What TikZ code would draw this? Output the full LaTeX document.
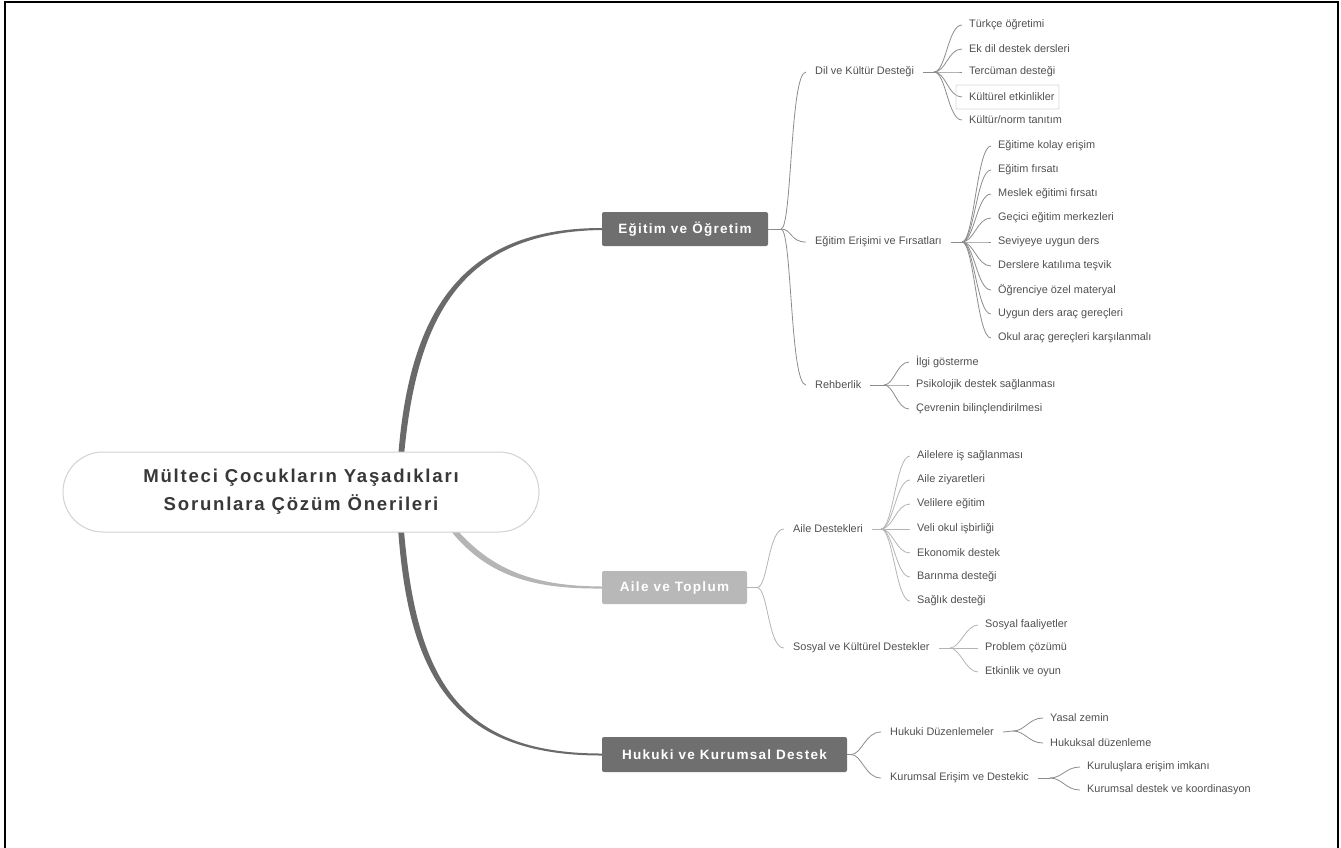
\documentclass[tikz,border=0pt]{standalone}
\usepackage{fontspec}
\setmainfont{Liberation Sans}
\newfontfamily\trackfont[LetterSpace=9.5]{Liberation Sans}
\usetikzlibrary{backgrounds,calc}
\definecolor{boxdark}{HTML}{6F6F6F}
\definecolor{boxlight}{HTML}{B8B8B8}
\definecolor{curvedark}{HTML}{6A6A6A}
\definecolor{curvelight}{HTML}{B5B5B5}
\definecolor{linegray}{HTML}{8C8C8C}
\definecolor{linelight}{HTML}{B4B4B4}
\definecolor{textgray}{HTML}{505050}
\definecolor{titlegray}{HTML}{383838}
\definecolor{pillborder}{HTML}{D2D2D2}
\definecolor{hlborder}{HTML}{D8D8D8}
\begin{document}
\begin{tikzpicture}[x=1pt,y=-1pt,
  mainbox/.style={text=white, rounded corners=2pt, inner sep=0pt,
    font=\trackfont\bfseries\fontsize{13.5}{16}\selectfont},
  pill/.style={draw=pillborder, fill=white, line width=1pt, rounded corners=40pt,
    minimum width=476pt, minimum height=80pt, align=center, text=titlegray,
    font=\trackfont\bfseries\fontsize{18.6}{28}\selectfont},
  sub/.style={anchor=west, inner xsep=9pt, inner ysep=2pt, text=textgray,
    font=\fontsize{10.9}{13}\selectfont},
  leaf/.style={anchor=west, inner xsep=7pt, inner ysep=2pt, text=textgray,
    font=\fontsize{10.9}{13}\selectfont},
  conn/.style={draw=linegray, line width=0.8pt},
  connl/.style={draw=linelight, line width=0.8pt},
  hl/.style={draw=hlborder, line width=0.8pt, rounded corners=1pt}
]
\useasboundingbox (0,0) rectangle (1341,847);
\draw[line width=2pt] (4.5,850) -- (4.5,1.5) -- (1337.5,1.5) -- (1337.5,850);

% central topic
\node[pill] (C) at (301,492) {Mülteci Çocukların Yaşadıkları\\Sorunlara Çözüm Önerileri};
\coordinate (hubE) at (400,470);
\coordinate (hubA) at (440,512);
\coordinate (hubH) at (400,515);

% main topics
\node[mainbox, fill=boxdark, minimum width=166pt, minimum height=34pt] (E) at (685,229) {Eğitim ve Öğretim};
\node[mainbox, fill=boxlight, minimum width=145pt, minimum height=33pt] (A) at (674.5,587.5) {Aile ve Toplum};
\node[mainbox, fill=boxdark, minimum width=245pt, minimum height=35pt] (H) at (724.5,754.5) {Hukuki ve Kurumsal Destek};

\begin{pgfonlayer}{background}
\fill[curvedark] ($(hubE)+(-2.75,0)$) .. controls (406,320) and (455,228) .. ([yshift=1pt]E.west)
  -- ([yshift=-1pt]E.west) .. controls (455,232) and (414,324) .. ($(hubE)+(2.75,0)$) -- cycle;
\fill[curvedark] ($(hubH)+(-2.75,0)$) .. controls (406,680) and (455,755.5) .. ([yshift=-1pt]H.west)
  -- ([yshift=1pt]H.west) .. controls (455,753.5) and (414,676) .. ($(hubH)+(2.75,0)$) -- cycle;
\fill[curvelight] ($(hubA)+(-2.75,0)$) .. controls (478,576) and (530,589) .. ([yshift=-1pt]A.west)
  -- ([yshift=1pt]A.west) .. controls (530,586) and (484,569) .. ($(hubA)+(2.75,0)$) -- cycle;
\end{pgfonlayer}

% ---------- Eğitim ve Öğretim ----------
\coordinate (eb) at (781,229);
\draw[conn] (E.east) -- (eb);
\node[sub] (dk) at (806,72) {Dil ve Kültür Desteği};
\node[sub] (ee) at (806,242) {Eğitim Erişimi ve Fırsatları};
\node[sub] (rh) at (806,385) {Rehberlik};
\foreach \s in {dk,ee,rh}{\draw[conn] (eb) .. controls +(11,0) and +(-16,0) .. (\s.west);}

\coordinate (dkb) at (934,72);
\draw[conn] (dk.east) -- (dkb);
\foreach \n/\y/\t in {dk1/25/{Türkçe öğretimi},dk2/49/{Ek dil destek dersleri},dk3/72/{Tercüman desteği},dk4/97/{Kültürel etkinlikler},dk5/120/{Kültür/norm tanıtım}}{
  \node[leaf] (\n) at (962,\y) {\t};
  \draw[conn] (dkb) .. controls +(12,0) and +(-14,0) .. (\n.west);}
\draw[hl] (956,85) rectangle (1059,109);

\coordinate (eeb) at (962,242);
\draw[conn] (ee.east) -- (eeb);
\foreach \n/\y/\t in {ee1/146/{Eğitime kolay erişim},ee2/170/{Eğitim fırsatı},ee3/194/{Meslek eğitimi fırsatı},ee4/218/{Geçici eğitim merkezleri},ee5/242/{Seviyeye uygun ders},ee6/266/{Derslere katılıma teşvik},ee7/290/{Öğrenciye özel materyal},ee8/314/{Uygun ders araç gereçleri},ee9/338/{Okul araç gereçleri karşılanmalı}}{
  \node[leaf] (\n) at (991,\y) {\t};
  \draw[conn] (eeb) .. controls +(12,0) and +(-14,0) .. (\n.west);}

\coordinate (rhb) at (884,385);
\draw[conn] (rh.east) -- (rhb);
\foreach \n/\y/\t in {rh1/362/{İlgi gösterme},rh2/385/{Psikolojik destek sağlanması},rh3/409/{Çevrenin bilinçlendirilmesi}}{
  \node[leaf] (\n) at (909,\y) {\t};
  \draw[conn] (rhb) .. controls +(10,0) and +(-12,0) .. (\n.west);}

% ---------- Aile ve Toplum ----------
\coordinate (ab) at (757,587.5);
\draw[connl] (A.east) -- (ab);
\node[sub] (ad) at (784,529) {Aile Destekleri};
\node[sub] (sk) at (784,648) {Sosyal ve Kültürel Destekler};
\foreach \s in {ad,sk}{\draw[connl] (ab) .. controls +(11,0) and +(-16,0) .. (\s.west);}

\coordinate (adb) at (881,529);
\draw[connl] (ad.east) -- (adb);
\foreach \n/\y/\t in {ad1/456/{Ailelere iş sağlanması},ad2/480/{Aile ziyaretleri},ad3/504/{Velilere eğitim},ad4/529/{Veli okul işbirliği},ad5/553/{Ekonomik destek},ad6/577/{Barınma desteği},ad7/601/{Sağlık desteği}}{
  \node[leaf] (\n) at (910,\y) {\t};
  \draw[connl] (adb) .. controls +(12,0) and +(-14,0) .. (\n.west);}

\coordinate (skb) at (950,648);
\draw[connl] (sk.east) -- (skb);
\foreach \n/\y/\t in {sk1/625/{Sosyal faaliyetler},sk2/648/{Problem çözümü},sk3/672/{Etkinlik ve oyun}}{
  \node[leaf] (\n) at (978,\y) {\t};
  \draw[connl] (skb) .. controls +(10,0) and +(-12,0) .. (\n.west);}

% ---------- Hukuki ve Kurumsal Destek ----------
\coordinate (hb) at (851,754.5);
\draw[conn] (H.east) -- (hb);
\node[sub] (hd) at (881,732) {Hukuki Düzenlemeler};
\node[sub] (ke) at (881,778) {Kurumsal Erişim ve Destekic};
\foreach \s in {hd,ke}{\draw[conn] (hb) .. controls +(11,0) and +(-16,0) .. (\s.west);}

\coordinate (hdb) at (1013,731);
\draw[conn] (hd.east) -- (hdb);
\foreach \n/\y/\t in {hd1/718/{Yasal zemin},hd2/743/{Hukuksal düzenleme}}{
  \node[leaf] (\n) at (1043,\y) {\t};
  \draw[conn] (hdb) .. controls +(12,0) and +(-14,0) .. (\n.west);}

\coordinate (keb) at (1050,778);
\draw[conn] (ke.east) -- (keb);
\foreach \n/\y/\t in {ke1/767/{Kuruluşlara erişim imkanı},ke2/790/{Kurumsal destek ve koordinasyon}}{
  \node[leaf] (\n) at (1080,\y) {\t};
  \draw[conn] (keb) .. controls +(12,0) and +(-14,0) .. (\n.west);}
\end{tikzpicture}
\end{document}
